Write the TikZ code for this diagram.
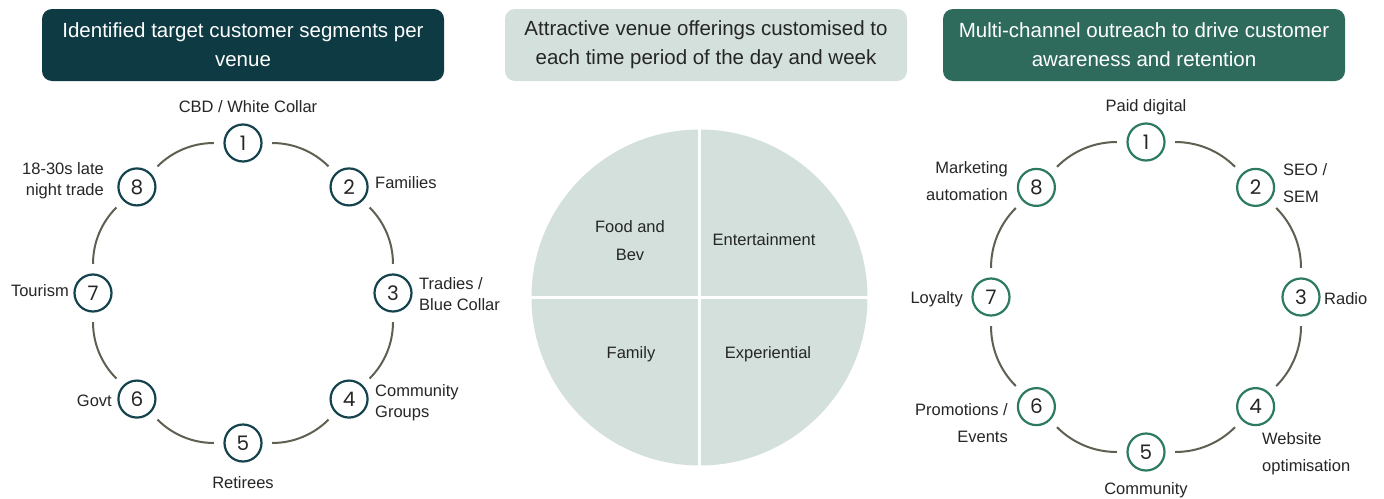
\documentclass[tikz,border=0pt]{standalone}
\usepackage{fontspec}
\setmainfont{Liberation Sans}
\newfontfamily\numfont{Poppins}
\definecolor{hdrA}{HTML}{0E3A43}
\definecolor{hdrB}{HTML}{D3E0DC}
\definecolor{hdrC}{HTML}{2E6B5C}
\definecolor{nodeA}{HTML}{14434D}
\definecolor{nodeC}{HTML}{2C7A60}
\definecolor{arcc}{HTML}{5E6152}
\definecolor{txt}{HTML}{262626}
\definecolor{piec}{HTML}{D3E0DC}
\tikzset{
  hdr/.style={rounded corners=10pt, minimum width=402pt, minimum height=72pt, inner sep=0pt, align=center,
    font=\fontsize{20.5}{29}\selectfont},
  lnode/.style={circle, draw=nodeA, line width=2.2pt, fill=white, minimum size=37pt, inner sep=0pt,
    text=txt, font=\numfont\fontsize{20}{24}\selectfont},
  rnode/.style={lnode, draw=nodeC},
  arcl/.style={draw=arcc, line width=2pt, shorten <=9.5pt, shorten >=9.5pt},
  lbl/.style={text=txt, inner sep=0pt, font=\fontsize{16.5}{21}\selectfont},
  rlbl/.style={lbl, font=\fontsize{16.5}{27}\selectfont},
  plbl/.style={lbl, font=\fontsize{16.5}{28}\selectfont, align=center},
}
\begin{document}
\begin{tikzpicture}[x=1pt,y=1pt]
\useasboundingbox (0,0) rectangle (1384,-498);
\fill[white] (0,0) rectangle (1384,-498);

% headers
\node[hdr, fill=hdrA, text=white] (hA) at (243,-45) {Identified target customer segments per\\venue};
\node[hdr, fill=hdrB, text=txt] (hB) at (706,-45) {Attractive venue offerings customised to\\each time period of the day and week};
\node[hdr, fill=hdrC, text=white] (hC) at (1144,-45) {Multi-channel outreach to drive customer\\awareness and retention};

% left ring
\foreach \i in {1,...,8} {
  \path (243,-293) ++({90-45*(\i-1)}:150) node[lnode] (L\i) {\i};
}
\foreach \i [evaluate=\i as \j using {int(mod(\i,8)+1)}] in {1,...,8}
  \draw[arcl] (L\i) to[bend left=22.5] (L\j);

\node[lbl] (t1) at (248,-107) {CBD / White Collar};
\node[lbl, anchor=west] (t2) at (375,-183) {Families};
\node[lbl, anchor=west, align=left] (t3) at (419,-294.5) {Tradies /\\Blue Collar};
\node[lbl, anchor=west, align=left] (t4) at (375,-402.5) {Community\\Groups};
\node[lbl] (t5) at (243,-483) {Retirees};
\node[lbl, anchor=east] (t6) at (112,-401) {Govt};
\node[lbl, anchor=east] (t7) at (69,-291) {Tourism};
\node[lbl, anchor=east, align=right] (t8) at (104,-181) {18-30s late\\night trade};

% pie
\node[circle, fill=piec, minimum size=336pt, inner sep=0pt] (pie) at (699.5,-297.5) {};
\draw[white, line width=3.5pt] (pie.north) -- (pie.south);
\draw[white, line width=3.5pt] (pie.west) -- (pie.east);
\node[plbl] (q1) at (630,-241) {Food and\\Bev};
\node[plbl] (q2) at (764,-240) {Entertainment};
\node[plbl] (q3) at (631,-354) {Family};
\node[plbl] (q4) at (768,-354) {Experiential};

% right ring
\foreach \i in {1,...,8} {
  \path (1146,-297) ++({90-45*(\i-1)}:155) node[rnode] (R\i) {\i};
}
\foreach \i [evaluate=\i as \j using {int(mod(\i,8)+1)}] in {1,...,8}
  \draw[arcl] (R\i) to[bend left=22.5] (R\j);

\node[rlbl] (r1) at (1146,-107) {Paid digital};
\node[rlbl, anchor=west, align=left] (r2) at (1283,-183.5) {SEO /\\SEM};
\node[rlbl, anchor=west] (r3) at (1324,-299) {Radio};
\node[rlbl, anchor=west, align=left] (r4) at (1262,-453.5) {Website\\optimisation};
\node[rlbl] (r5) at (1146,-490) {Community};
\node[rlbl, anchor=east, align=right] (r6) at (1008,-423) {Promotions /\\Events};
\node[rlbl, anchor=east] (r7) at (963,-299) {Loyalty};
\node[rlbl, anchor=east, align=right] (r8) at (1008,-181) {Marketing\\automation};
\end{tikzpicture}
\end{document}
